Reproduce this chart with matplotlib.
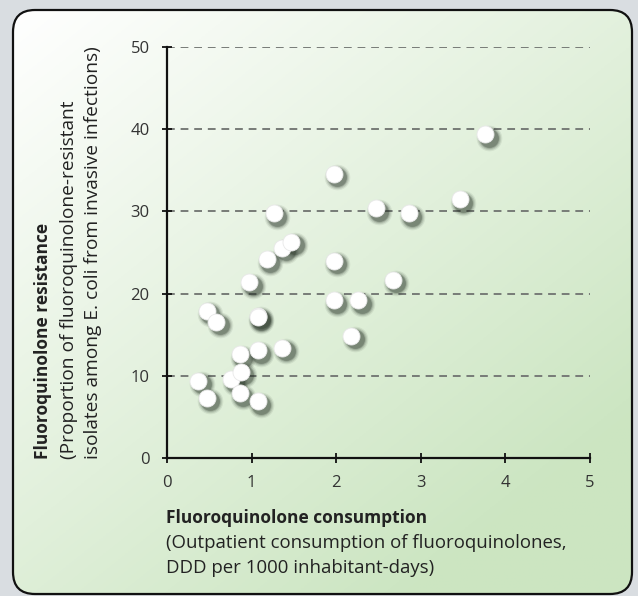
import numpy as np
import matplotlib
matplotlib.use("Agg")
import matplotlib.pyplot as plt
import matplotlib.transforms as mtransforms
from matplotlib.patches import FancyBboxPatch

# consumo (DDD por 1000 habitantes-dia) e resistencia (%)
consumo = [3.76, 1.97, 2.47, 2.86, 3.46, 1.97, 2.67, 1.97, 2.26, 2.18,
           1.26, 1.36, 1.47, 1.18, 0.97, 0.47, 0.58, 1.07, 1.07,
           0.86, 1.07, 1.36, 0.37, 0.76, 0.87, 0.47, 0.86, 1.07]
resistencia = [39.4, 34.6, 30.4, 29.8, 31.5, 24.0, 21.7, 19.2, 19.2, 14.9,
               29.8, 25.6, 26.3, 24.2, 21.4, 17.9, 16.6, 17.3, 17.1,
               12.6, 13.1, 13.4, 9.4, 9.6, 10.5, 7.3, 7.9, 6.9]
xticks = [0, 1, 2, 3, 4, 5]
yticks = [0, 10, 20, 30, 40, 50]

plt.rcParams['font.family'] = ['Open Sans', 'DejaVu Sans']

fig = plt.figure(figsize=(6.38, 5.96), dpi=100)
fig.patch.set_facecolor('#d9dde1')

# painel com cantos arredondados e gradiente
bg = fig.add_axes([0, 0, 1, 1], zorder=0)
bg.set_xlim(0, 638)
bg.set_ylim(596, 0)
bg.axis('off')
painel = FancyBboxPatch((13, 10), 619, 584, boxstyle="round,pad=0,rounding_size=22",
                        facecolor='none', edgecolor='#111111', linewidth=1.6, zorder=3)
bg.add_patch(painel)
gx, gy = np.meshgrid(np.linspace(0, 1, 200), np.linspace(0, 1, 200))
t = np.clip(0.55 * gx + 0.65 * gy, 0, 1)
c0 = np.array([1.0, 1.0, 1.0])
c1 = np.array([0.80, 0.90, 0.76])
img = c0 + (c1 - c0) * t[..., None]
im = bg.imshow(img, extent=(13, 632, 594, 10), aspect='auto', zorder=1)
im.set_clip_path(painel)

ax = fig.add_axes([0.2618, 0.2315, 0.6630, 0.6896], zorder=2)
ax.patch.set_alpha(0)
ax.set_xlim(0, 5)
ax.set_ylim(0, 50)
ax.set_xticks(xticks)
ax.set_yticks(yticks)
ax.set_xticklabels([str(v) for v in xticks])
ax.set_yticklabels([str(v) for v in yticks])
ax.tick_params(direction='inout', length=7, width=1.3, colors='#111111',
               labelcolor='#333333', labelsize=12)
ax.tick_params(axis='x', pad=9)
ax.tick_params(axis='y', pad=9)
for s in ['top', 'right']:
    ax.spines[s].set_visible(False)
for s in ['left', 'bottom']:
    ax.spines[s].set_linewidth(1.6)
    ax.spines[s].set_color('#111111')
for v in yticks[1:]:
    ax.axhline(v, color='#777b77', linestyle=(0, (4, 3)), linewidth=1.4, zorder=1)

# sombra difusa
for tam, alfa in [(340, 0.08), (280, 0.12), (225, 0.18), (185, 0.28)]:
    off = mtransforms.ScaledTranslation(2.5 / 72, -2.5 / 72, fig.dpi_scale_trans)
    ax.scatter(consumo, resistencia, s=tam, color='#1e2a1e', alpha=alfa, linewidths=0,
               transform=ax.transData + off, zorder=3, clip_on=False)
ax.scatter(consumo, resistencia, s=150, color='white', edgecolors='#e8e8e8',
           linewidths=0.6, zorder=4, clip_on=False)

fig.text(166 / 638, 1 - 518 / 596, 'Fluoroquinolone consumption', fontsize=12.5,
         fontweight='bold', color='#222222', ha='left', va='center')
fig.text(166 / 638, 1 - 543 / 596, '(Outpatient consumption of fluoroquinolones,',
         fontsize=13.4, color='#222222', ha='left', va='center')
fig.text(166 / 638, 1 - 568 / 596, 'DDD per 1000 inhabitant-days)',
         fontsize=13.4, color='#222222', ha='left', va='center')

fig.text(43 / 638, 1 - 459 / 596, 'Fluoroquinolone resistance', fontsize=12.5,
         fontweight='bold', color='#222222', ha='left', va='center', rotation=90,
         rotation_mode='anchor')
fig.text(69 / 638, 1 - 459 / 596, '(Proportion of fluoroquinolone-resistant',
         fontsize=13.8, color='#222222', ha='left', va='center', rotation=90,
         rotation_mode='anchor')
fig.text(93 / 638, 1 - 459 / 596, 'isolates among E. coli from invasive infections)',
         fontsize=13.8, color='#222222', ha='left', va='center', rotation=90,
         rotation_mode='anchor')

fig.savefig('out.png', dpi=100, facecolor=fig.get_facecolor())
